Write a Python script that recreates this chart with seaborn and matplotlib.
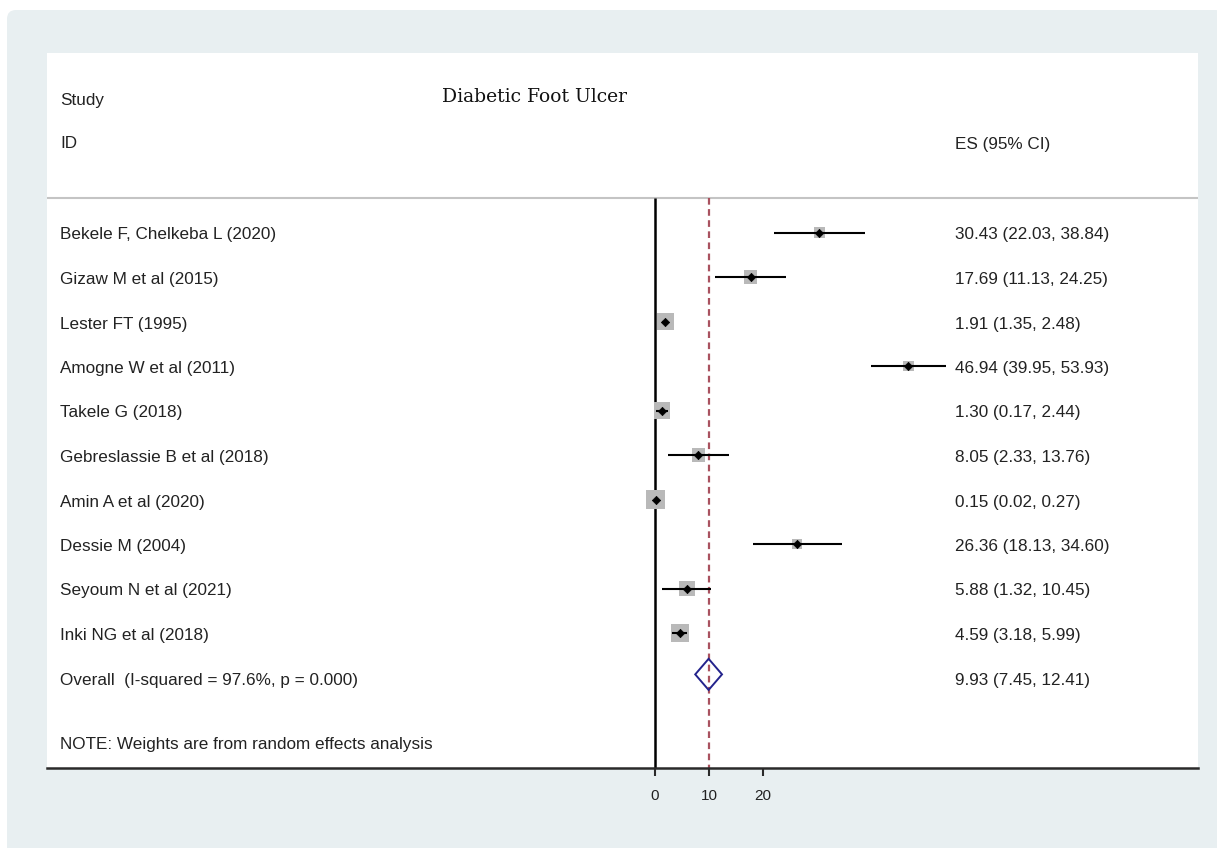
import numpy as np
import pandas as pd
import matplotlib
matplotlib.use("Agg")
import matplotlib.pyplot as plt
import seaborn as sns
from matplotlib.patches import FancyBboxPatch, Polygon

# ---------------- data ----------------
studies = [
    "Bekele F, Chelkeba L (2020)",
    "Gizaw M et al (2015)",
    "Lester FT (1995)",
    "Amogne W et al (2011)",
    "Takele G (2018)",
    "Gebreslassie B et al (2018)",
    "Amin A et al (2020)",
    "Dessie M (2004)",
    "Seyoum N et al (2021)",
    "Inki NG et al (2018)",
]
es = [30.43, 17.69, 1.91, 46.94, 1.30, 8.05, 0.15, 26.36, 5.88, 4.59]
ci_low = [22.03, 11.13, 1.35, 39.95, 0.17, 2.33, 0.02, 18.13, 1.32, 3.18]
ci_high = [38.84, 24.25, 2.48, 53.93, 2.44, 13.76, 0.27, 34.60, 10.45, 5.99]
es_labels = [
    "30.43 (22.03, 38.84)",
    "17.69 (11.13, 24.25)",
    "1.91 (1.35, 2.48)",
    "46.94 (39.95, 53.93)",
    "1.30 (0.17, 2.44)",
    "8.05 (2.33, 13.76)",
    "0.15 (0.02, 0.27)",
    "26.36 (18.13, 34.60)",
    "5.88 (1.32, 10.45)",
    "4.59 (3.18, 5.99)",
]
weights = [5.7, 8.3, 12.9, 4.7, 12.9, 8.3, 16.6, 4.7, 11.3, 14.7]

overall_label = "Overall  (I-squared = 97.6%, p = 0.000)"
overall_es, overall_low, overall_high = 9.93, 7.45, 12.41
overall_es_label = "9.93 (7.45, 12.41)"
note = "NOTE: Weights are from random effects analysis"
title = "Diabetic Foot Ulcer"
xticks = [0, 10, 20]

# ---------------- style ----------------
sns.set_theme(style="white")
plt.rcParams['font.family'] = ['Liberation Sans', 'DejaVu Sans']

W, H = 1217, 848
fig = plt.figure(figsize=(W / 100, H / 100), dpi=100)
fig.patch.set_facecolor('white')

# outer light panel (display pixel coords)
bg = FancyBboxPatch((7, -30), W, H - 10 + 30,
                    boxstyle="round,pad=0,rounding_size=9",
                    transform=None, facecolor='#e8eff1', edgecolor='none', zorder=-5)
fig.patches.append(bg)

# plot panel
left_px, right_px, top_px, bot_px = 47, 1198, 53, 768
ax = fig.add_axes([left_px / W, 1 - bot_px / H, (right_px - left_px) / W, (bot_px - top_px) / H])
ax.set_facecolor('white')
ax.set_zorder(1)

px_per_unit = 5.4
x0_px = 655
row0_px, row_step = 232.5, 44.5
ax.set_xlim((left_px - x0_px) / px_per_unit, (right_px - x0_px) / px_per_unit)
ymin = (top_px - row0_px) / row_step
ymax = (bot_px - row0_px) / row_step
ax.set_ylim(ymax, ymin)

n = len(studies)
df = pd.DataFrame({"study": studies, "es": es, "lo": ci_low, "hi": ci_high,
                   "w": weights, "row": np.arange(n)})
overall_row = n

header_y = (198 - row0_px) / row_step

# reference lines
ax.vlines(0, header_y, ymax, color='black', lw=1.8, zorder=2)
ax.vlines(overall_es, header_y, ymax, color='#a9525f', lw=1.6,
          linestyles=[(0, (3.0, 2.0))], zorder=2)
ax.axhline(header_y, color='#c4c4c4', lw=1.5, zorder=1)

# weight boxes
sns.scatterplot(data=df, x="es", y="row", size="w", sizes=(0, 190), size_norm=(0, max(weights)),
                marker='s', color='#b9b9b9', edgecolor='none', linewidth=0,
                legend=False, ax=ax, zorder=3)
# CIs
ax.hlines(df["row"], df["lo"], df["hi"], color='black', lw=1.5, zorder=4)
# point estimates
sns.scatterplot(data=df, x="es", y="row", marker='D', color='black', s=18,
                edgecolor='black', linewidth=0.5, legend=False, ax=ax, zorder=5)

# overall diamond
dh = 0.35
dy = -0.07
diamond = Polygon([[overall_low, overall_row + dy], [overall_es, overall_row + dy - dh],
                   [overall_high, overall_row + dy], [overall_es, overall_row + dy + dh]],
                  closed=True, facecolor='none', edgecolor='#23238c', lw=1.4, zorder=5)
ax.add_patch(diamond)

# texts
tr = ax.get_yaxis_transform()
txt_col = '#222222'
fs = 12.3
toff = 2.5 / row_step
label_x = (60 - left_px) / (right_px - left_px)
es_x = (955 - left_px) / (right_px - left_px)
for i, (s, l) in enumerate(zip(studies, es_labels)):
    ax.text(label_x, i + toff, s, transform=tr, ha='left', va='center', fontsize=fs, color=txt_col)
    ax.text(es_x, i + toff, l, transform=tr, ha='left', va='center', fontsize=fs, color=txt_col)
ax.text(label_x, overall_row + toff, overall_label, transform=tr, ha='left', va='center', fontsize=fs, color=txt_col)
ax.text(es_x, overall_row + toff, overall_es_label, transform=tr, ha='left', va='center', fontsize=fs, color=txt_col)
ax.text(label_x, (745 - row0_px) / row_step, note, transform=tr, ha='left', va='center', fontsize=fs, color=txt_col)
ax.text(label_x, (100 - row0_px) / row_step, "Study", transform=tr, ha='left', va='center', fontsize=fs, color=txt_col)
ax.text(label_x, (144 - row0_px) / row_step, "ID", transform=tr, ha='left', va='center', fontsize=fs, color=txt_col)
ax.text(es_x, (144 - row0_px) / row_step, "ES (95% CI)", transform=tr, ha='left', va='center', fontsize=fs, color=txt_col)
ax.text((535 - left_px) / (right_px - left_px), (97 - row0_px) / row_step, title, transform=tr,
        ha='center', va='center', fontsize=13.5, color='#111111', family=['DejaVu Serif'])

# axes styling
for sp in ['left', 'top', 'right']:
    ax.spines[sp].set_visible(False)
ax.spines['bottom'].set_color('#2a2a2a')
ax.spines['bottom'].set_linewidth(1.8)
ax.set_xticks(xticks)
ax.set_xticklabels([str(t) for t in xticks])
ax.set_yticks([])
ax.tick_params(axis='x', direction='out', length=6, width=1.5, color='#2a2a2a',
               labelsize=11, labelcolor=txt_col, pad=9, bottom=True)
ax.set_xlabel("")
ax.set_ylabel("")

fig.savefig("out.png", dpi=100)
